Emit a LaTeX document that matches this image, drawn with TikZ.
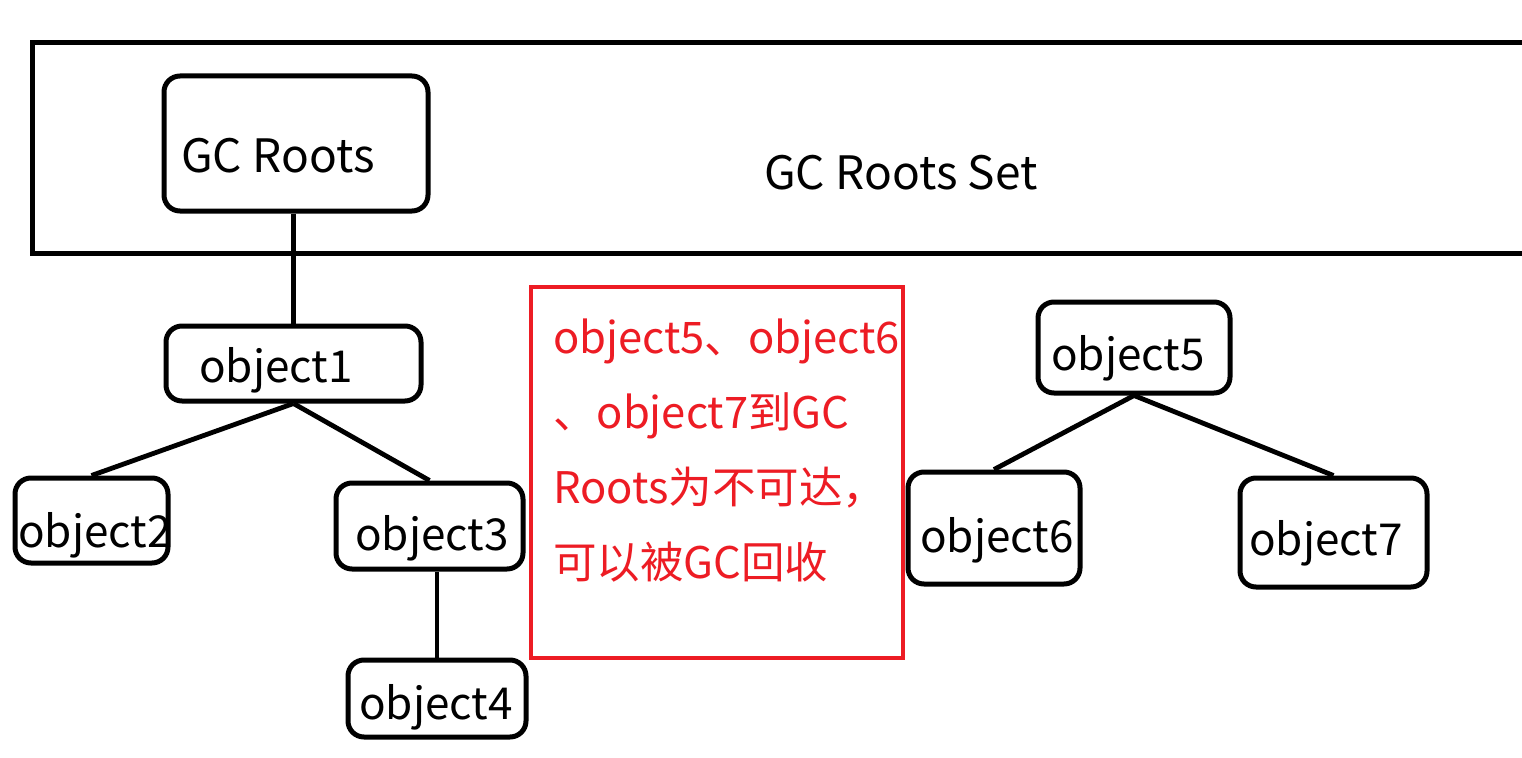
\documentclass[tikz,border=0pt]{standalone}
\usepackage{fontspec}
\setmainfont{Noto Sans CJK SC}
\definecolor{paintred}{RGB}{237,28,36}
\begin{document}
\begin{tikzpicture}[x=1pt,y=-1pt,
  obj/.style={draw, line width=5pt, rounded corners=16pt, inner sep=0pt},
  lbl/.style={anchor=base west, inner sep=0pt, font=\fontsize{44}{50}\selectfont},
  biglbl/.style={anchor=base west, inner sep=0pt, font=\fontsize{46}{52}\selectfont},
  rlbl/.style={anchor=base west, inner sep=0pt, text=paintred, font=\fontsize{43.5}{50}\selectfont},
  link/.style={line width=4.8pt}]
\useasboundingbox (0,0) rectangle (1522,757);
\fill[white] (0,0) rectangle (1522,757);
% GC Roots Set frame (open on the right)
\draw[line width=5pt] (1522,43) -- (32,43) -- (32,253) -- (1522,253);
\node[biglbl] (setlbl) at (764,189) {GC Roots Set};
% boxes
\node[obj, minimum width=264pt, minimum height=135pt] (gcr) at (296,143.5) {};
\node[obj, minimum width=255pt, minimum height=75pt] (o1) at (293.5,363.5) {};
\node[obj, minimum width=153pt, minimum height=85pt] (o2) at (91.5,520.5) {};
\node[obj, minimum width=187pt, minimum height=86pt] (o3) at (429.5,526) {};
\node[obj, minimum width=178pt, minimum height=77pt] (o4) at (437,698.5) {};
\node[obj, minimum width=192pt, minimum height=91pt] (o5) at (1134,347.5) {};
\node[obj, minimum width=172pt, minimum height=112pt] (o6) at (994,528) {};
\node[obj, minimum width=187pt, minimum height=109pt] (o7) at (1333.5,532.5) {};
\node[draw=paintred, line width=4pt, inner sep=0pt, minimum width=372pt, minimum height=371pt] (note) at (717,472.5) {};
% labels
\node[biglbl] (tgcr) at (181,172) {GC Roots};
\node[lbl] (t1) at (199,382) {object1};
\node[lbl] (t2) at (18,547) {object2};
\node[lbl] (t3) at (355,550) {object3};
\node[lbl] (t4) at (359,719) {object4};
\node[lbl] (t5) at (1051,370) {object5};
\node[lbl] (t6) at (920,552) {object6};
\node[lbl] (t7) at (1249,555) {object7};
\node[rlbl] (r1) at (553,353) {object5、object6};
\node[rlbl] (r2) at (553,428) {、object7到GC};
\node[rlbl] (r3) at (553,503) {Roots为不可达，};
\node[rlbl] (r4) at (553,578) {可以被GC回收};
% connectors
\draw[link] (o1.north |- gcr.south) -- (o1.north);
\draw[link] (o1.south) -- (o2.north);
\draw[link] (o1.south) -- (o3.north);
\draw[link] (o4.north |- o3.south) -- (o4.north);
\draw[link] (o5.south) -- (o6.north);
\draw[link] (o5.south) -- (o7.north);
\end{tikzpicture}
\end{document}
